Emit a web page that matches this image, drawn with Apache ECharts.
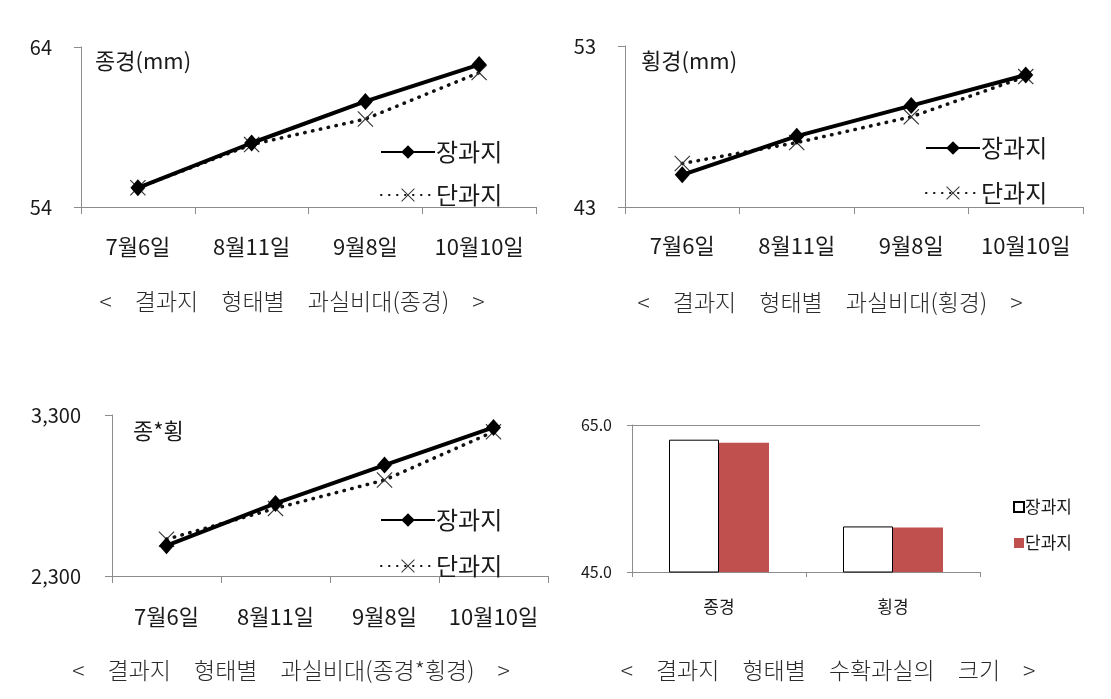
<!DOCTYPE html>
<html>
<head>
<meta charset="utf-8">
<script src="https://cdn.jsdelivr.net/npm/echarts@6/dist/echarts.min.js"></script>
<style>
html,body{margin:0;padding:0;background:#fff;}
#wrap{position:relative;width:1111px;height:699px;overflow:hidden;}
.q{position:absolute;}
</style>
</head>
<body>
<div id="wrap">
  <div id="c1" class="q" style="left:0;top:0;width:555px;height:349px"></div>
  <div id="c2" class="q" style="left:555px;top:0;width:556px;height:349px"></div>
  <div id="c3" class="q" style="left:0;top:349px;width:555px;height:350px"></div>
  <div id="c4" class="q" style="left:555px;top:349px;width:556px;height:350px"></div>
</div>
<script>
// ---- data ----
const dates = ['7월6일', '8월11일', '9월8일', '10월10일'];
const seriesNames = ['장과지', '단과지'];
const longLen = [55.2, 58.0, 60.6, 62.9];     // 장과지 종경
const shortLen = [55.2, 57.9, 59.5, 62.4];    // 단과지 종경
const longWid = [45.0, 47.4, 49.3, 51.2];     // 장과지 횡경
const shortWid = [45.7, 47.0, 48.6, 51.1];    // 단과지 횡경
const longProd = [2488, 2751, 2989, 3223];    // 장과지 종*횡
const shortProd = [2528, 2720, 2896, 3196];   // 단과지 종*횡
const sizeCats = ['종경', '횡경'];
const longSize = [63.0, 51.2];
const shortSize = [62.6, 51.05];
const lenTicks = [54, 64];
const widTicks = [43, 53];
const prodTicks = [2300, 3300];
const sizeTicks = [45, 65];
const captions = [
  '<\u3000결과지\u3000형태별\u3000과실비대(종경)\u3000>',
  '<\u3000결과지\u3000형태별\u3000과실비대(횡경)\u3000>',
  '<\u3000결과지\u3000형태별\u3000과실비대(종경*횡경)\u3000>',
  '<\u3000결과지\u3000형태별\u3000수확과실의\u3000크기\u3000>'
];
const innerTitles = ['종경(mm)', '횡경(mm)', '종*횡'];

const FONT = '"Noto Sans CJK KR", "Noto Sans", sans-serif';
const TXT = '#1a1a1a';
const AXIS = '#8c8c8c';
const XPATH = 'path://M1,0 L10,9 L19,0 L20,1 L11,10 L20,19 L19,20 L10,11 L1,20 L0,19 L9,10 L0,1 Z';

function captionText(text, x, y) {
  return { type: 'text', x: x, y: y,
    style: { text: text, fontSize: 23, fontWeight: 300, fill: '#2a2a2a', fontFamily: FONT,
      align: 'center', verticalAlign: 'middle' } };
}

function lineOption(cfg) {
  return {
    animation: false,
    textStyle: { fontFamily: FONT },
    grid: cfg.grid,
    legend: {
      orient: 'vertical',
      left: cfg.legendLeft, top: cfg.legendTop,
      itemWidth: 54, itemHeight: 17, itemGap: cfg.legendGap,
      textStyle: { fontSize: 24, lineHeight: 24, color: TXT, fontFamily: FONT, padding: [0, 0, 0, -4] },
      data: seriesNames
    },
    xAxis: {
      type: 'category', data: dates, boundaryGap: true,
      axisLine: { lineStyle: { color: AXIS, width: 1 } },
      axisTick: { show: true, length: 7, interval: 0, lineStyle: { color: AXIS } },
      axisLabel: { fontSize: 22, color: TXT, margin: cfg.xMargin, interval: 0,
        hideOverlap: false, fontFamily: FONT }
    },
    yAxis: {
      type: 'value', min: cfg.ticks[0], max: cfg.ticks[1],
      interval: cfg.ticks[1] - cfg.ticks[0],
      axisLine: { show: true, lineStyle: { color: AXIS, width: 1 } },
      axisTick: { show: true, length: 7, lineStyle: { color: AXIS } },
      splitLine: { show: false },
      axisLabel: { fontSize: 20, color: TXT, margin: cfg.yMargin, fontFamily: FONT,
        formatter: cfg.yFmt || null }
    },
    graphic: [
      { type: 'text', left: cfg.titlePos[0], top: cfg.titlePos[1],
        style: { text: cfg.title, fontSize: 22, fill: TXT, fontFamily: FONT } },
      captionText(cfg.caption, cfg.capPos[0], cfg.capPos[1])
    ],
    series: [
      { name: seriesNames[0], type: 'line', data: cfg.a, z: 3,
        symbol: 'diamond', symbolSize: [15, 17],
        itemStyle: { color: '#000' },
        lineStyle: { color: '#000', width: 4 } },
      { name: seriesNames[1], type: 'line', data: cfg.b, z: 2,
        symbol: XPATH, symbolSize: 16,
        itemStyle: { color: '#333' },
        lineStyle: { color: '#111', width: 3.5, type: [0.5, 7.5], cap: 'round' } }
    ]
  };
}

const c1 = echarts.init(document.getElementById('c1'), null, { renderer: 'canvas' });
c1.setOption(lineOption({
  grid: { left: 81, right: 19, top: 47, bottom: 142 },
  legendLeft: 375, legendTop: 135, legendGap: 19, xMargin: 29, yMargin: 29,
  ticks: lenTicks, a: longLen, b: shortLen,
  title: innerTitles[0], titlePos: [95, 50],
  caption: captions[0], capPos: [292, 301]
}));

const c2 = echarts.init(document.getElementById('c2'), null, { renderer: 'canvas' });
c2.setOption(lineOption({
  grid: { left: 70, right: 28, top: 46, bottom: 142 },
  legendLeft: 365, legendTop: 131, legendGap: 21, xMargin: 28, yMargin: 29,
  ticks: widTicks, a: longWid, b: shortWid,
  title: innerTitles[1], titlePos: [86, 50],
  caption: captions[1], capPos: [275, 302]
}));

const c3 = echarts.init(document.getElementById('c3'), null, { renderer: 'canvas' });
c3.setOption(lineOption({
  grid: { left: 112, right: 7, top: 66, bottom: 123 },
  legendLeft: 375, legendTop: 154, legendGap: 22, xMargin: 30, yMargin: 31,
  ticks: prodTicks, a: longProd, b: shortProd,
  yFmt: function (v) { return v.toLocaleString('en-US'); },
  title: innerTitles[2], titlePos: [133, 71],
  caption: captions[2], capPos: [291, 321]
}));

const c4 = echarts.init(document.getElementById('c4'), null, { renderer: 'canvas' });
c4.setOption({
  animation: false,
  textStyle: { fontFamily: FONT },
  grid: { left: 77, right: 131, top: 76, bottom: 127 },
  legend: {
    orient: 'vertical', left: 453, top: 144,
    itemWidth: 10, itemHeight: 10, itemGap: 18, icon: 'rect',
    textStyle: { fontSize: 17, lineHeight: 18, color: TXT, fontFamily: FONT, padding: [0, 0, 0, -4] },
    data: seriesNames
  },
  xAxis: {
    type: 'category', data: sizeCats,
    axisLine: { lineStyle: { color: AXIS } },
    axisTick: { show: true, length: 5, interval: 0, lineStyle: { color: AXIS } },
    axisLabel: { fontSize: 17, color: TXT, margin: 26, interval: 0, fontFamily: FONT }
  },
  yAxis: {
    type: 'value', min: sizeTicks[0], max: sizeTicks[1],
    interval: sizeTicks[1] - sizeTicks[0],
    axisLine: { show: true, lineStyle: { color: AXIS } },
    axisTick: { show: true, length: 5, lineStyle: { color: AXIS } },
    splitLine: { show: true, lineStyle: { color: AXIS } },
    axisLabel: { fontSize: 16, color: TXT, margin: 20, fontFamily: FONT,
      formatter: function (v) { return v.toFixed(1); } }
  },
  graphic: [ captionText(captions[3], 273, 321) ],
  series: [
    { name: seriesNames[0], type: 'bar', data: longSize, barWidth: 50, barGap: '0%',
      itemStyle: { color: '#ffffff', borderColor: '#000', borderWidth: 1 } },
    { name: seriesNames[1], type: 'bar', data: shortSize, barWidth: 50,
      itemStyle: { color: '#c0504d' } }
  ]
});
</script>
</body>
</html>
